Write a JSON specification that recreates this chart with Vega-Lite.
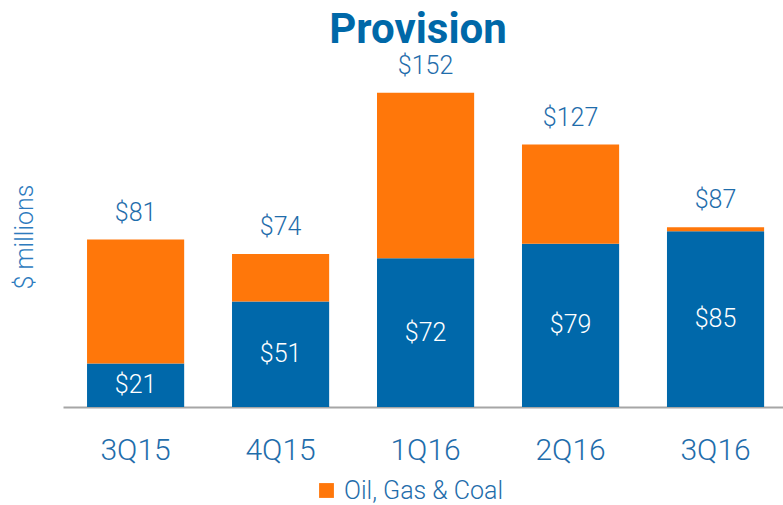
{
  "$schema": "https://vega.github.io/schema/vega-lite/v6.json",
  "width": 720,
  "height": 341,
  "autosize": {"type": "none"},
  "padding": {"left": 63, "top": 66, "right": 0, "bottom": 98},
  "background": "white",
  "title": {
    "text": "Provision",
    "font": "Roboto",
    "fontSize": 42,
    "fontWeight": "bold",
    "color": "#0068A8",
    "anchor": "middle",
    "offset": 2,
    "dx": -5
  },
  "data": {
    "values": [
      {"quarter": "3Q15", "segment": "Other", "value": 21},
      {"quarter": "3Q15", "segment": "Oil, Gas & Coal", "value": 60},
      {"quarter": "4Q15", "segment": "Other", "value": 51},
      {"quarter": "4Q15", "segment": "Oil, Gas & Coal", "value": 23},
      {"quarter": "1Q16", "segment": "Other", "value": 72},
      {"quarter": "1Q16", "segment": "Oil, Gas & Coal", "value": 80},
      {"quarter": "2Q16", "segment": "Other", "value": 79},
      {"quarter": "2Q16", "segment": "Oil, Gas & Coal", "value": 48},
      {"quarter": "3Q16", "segment": "Other", "value": 85},
      {"quarter": "3Q16", "segment": "Oil, Gas & Coal", "value": 2}
    ]
  },
  "encoding": {
    "x": {
      "field": "quarter",
      "type": "nominal",
      "sort": ["3Q15", "4Q15", "1Q16", "2Q16", "3Q16"],
      "scale": {"paddingInner": 0.33, "paddingOuter": 0.148, "align": 0.56},
      "axis": {
        "title": null,
        "labelAngle": 0,
        "ticks": false,
        "domainColor": "#A6A6A6",
        "domainWidth": 2,
        "labelFont": "Roboto",
        "labelFontWeight": 300,
        "labelFontSize": 30,
        "labelColor": "#1F6DAB",
        "labelPadding": 28
      }
    }
  },
  "layer": [
    {
      "mark": {"type": "bar"},
      "encoding": {
        "y": {
          "field": "value",
          "type": "quantitative",
          "stack": "zero",
          "scale": {"domain": [0, 165], "nice": false},
          "axis": {
            "title": "$ millions",
            "titleFont": "Roboto",
            "titleFontSize": 25,
            "titleFontWeight": 300,
            "titleColor": "#2D7BBE",
            "titlePadding": 26,
            "labels": false,
            "ticks": false,
            "domain": false,
            "grid": false
          }
        },
        "color": {
          "field": "segment",
          "type": "nominal",
          "scale": {"domain": ["Other", "Oil, Gas & Coal"], "range": ["#0068AA", "#FF770A"]},
          "legend": {
            "title": null,
            "orient": "none",
            "legendX": 251,
            "legendY": 412,
            "values": ["Oil, Gas & Coal"],
            "symbolType": "square",
            "symbolSize": 220,
            "symbolStrokeWidth": 0,
            "labelFont": "Roboto",
            "labelFontWeight": 300,
            "labelFontSize": 25,
            "labelOffset": 5,
            "labelLimit": 400,
            "labelColor": "#1F6DAB"
          }
        },
        "order": {"field": "segment", "sort": "descending"}
      }
    },
    {
      "transform": [{"filter": "datum.segment === 'Other'"}],
      "mark": {
        "type": "text",
        "color": "white",
        "font": "Roboto",
        "fontWeight": 300,
        "fontSize": 25,
        "baseline": "middle"
      },
      "encoding": {
        "y": {"field": "value", "type": "quantitative", "scale": {"domain": [0, 330], "nice": false}, "axis": null},
        "text": {"field": "value", "type": "quantitative", "format": "$d"}
      }
    },
    {
      "mark": {
        "type": "text",
        "color": "#1F6DAB",
        "font": "Roboto",
        "fontWeight": 300,
        "fontSize": 25,
        "baseline": "bottom",
        "dy": -14
      },
      "encoding": {
        "y": {"aggregate": "sum", "field": "value", "type": "quantitative", "scale": {"domain": [0, 165], "nice": false}, "axis": null},
        "text": {"aggregate": "sum", "field": "value", "type": "quantitative", "format": "$d"}
      }
    }
  ],
  "resolve": {"scale": {"y": "independent"}},
  "config": {"view": {"stroke": null}}
}
